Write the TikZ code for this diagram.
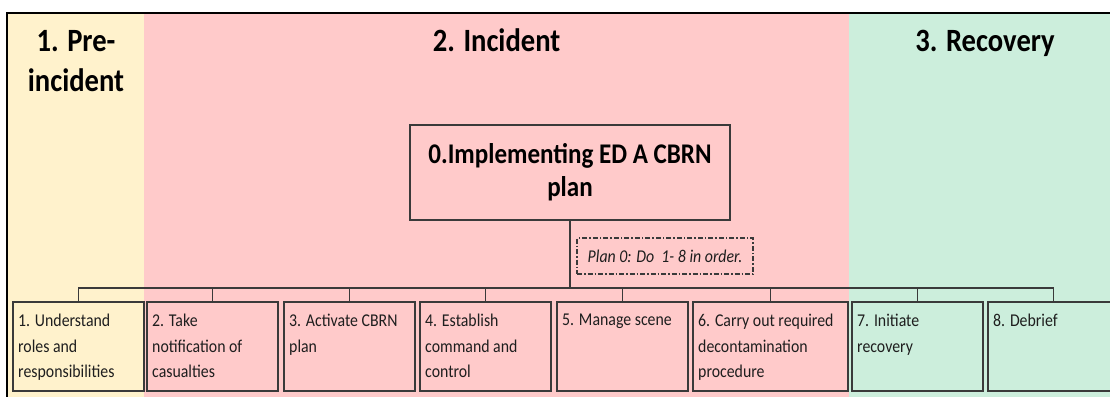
\documentclass[tikz,border=0pt]{standalone}
\usepackage{fontspec}
\setmainfont{Carlito}[FakeStretch=0.88]
\definecolor{preY}{HTML}{FFF2CC}
\definecolor{incP}{HTML}{FFCACA}
\definecolor{recG}{HTML}{CCEEDC}
\definecolor{boxgray}{HTML}{3A3A3A}
\definecolor{txtgray}{HTML}{1E1E1E}
\newcommand\fTitle{\fontsize{32.5}{40}\selectfont\bfseries}
\newcommand\fMain{\fontsize{28.5}{33}\selectfont\bfseries}
\newcommand\fTask{\fontsize{18}{25.5}\selectfont}
\newcommand\fPlan{\fontsize{18}{22}\selectfont\itshape}
\begin{document}
\begin{tikzpicture}[x=1pt,y=-1pt,
  titletext/.style={font=\fTitle, text=black, inner sep=0pt, align=center},
  mainbox/.style={draw=boxgray, line width=1.4pt, minimum width=320pt, minimum height=95pt, inner sep=0pt, align=center, font=\fMain, text=black},
  planbox/.style={draw=boxgray, line width=1.1pt, dash pattern=on 5pt off 2pt on 1.5pt off 2pt, minimum width=176pt, minimum height=36pt, inner sep=0pt, font=\fPlan, text=txtgray},
  taskbox/.style={draw=boxgray, line width=1.6pt, minimum width=131pt, minimum height=89pt, inner sep=0pt, anchor=north west},
  widebox/.style={taskbox, minimum width=155pt},
  tasktext/.style={font=\fTask, text=txtgray, inner sep=0pt, anchor=north west, align=left, xshift=6pt, yshift=-13pt},
  link/.style={draw=boxgray, line width=1.4pt}]
\path[use as bounding box, clip] (0,0) rectangle (1110,396);
% background columns
\fill[preY] (8,13) rectangle (144,402);
\fill[incP] (144,13) rectangle (849,402);
\fill[recG] (849,13) rectangle (1124,402);
\draw[black, line width=2pt] (7,13) rectangle (1122,402);
% titles
\node[titletext, anchor=north] (tpre) at (76,30) {1. Pre-\\incident};
\node[titletext, anchor=base] (tinc) at (496.5,52) {2. Incident};
\node[titletext, anchor=base] (trec) at (985,52) {3. Recovery};
% main node
\node[mainbox] (main) at (570,172.5) {0.Implementing ED A CBRN\\plan};
% plan note
\node[planbox] (plan) at (665,256) {Plan 0: Do\ \ 1-\ 8 in order.};
% task boxes
\node[taskbox] (t1) at (12,301) {};
\node[taskbox] (t2) at (146,301) {};
\node[taskbox] (t3) at (283,301) {};
\node[taskbox] (t4) at (419,301) {};
\node[taskbox] (t5) at (556,301) {};
\node[widebox] (t6) at (692,301) {};
\node[taskbox] (t7) at (851,301) {};
\node[taskbox] (t8) at (987,301) {};
\node[tasktext] (l1) at (t1.north west) {1. Understand\\roles and\\responsibilities};
\node[tasktext] (l2) at (t2.north west) {2. Take\\notification of\\casualties};
\node[tasktext] (l3) at (t3.north west) {3. Activate CBRN\\plan};
\node[tasktext] (l4) at (t4.north west) {4. Establish\\command and\\control};
\node[tasktext] (l5) at (t5.north west) {5. Manage scene};
\node[tasktext] (l6) at (t6.north west) {6. Carry out required\\decontamination\\procedure};
\node[tasktext] (l7) at (t7.north west) {7. Initiate\\recovery};
\node[tasktext] (l8) at (t8.north west) {8. Debrief};
% connectors
\coordinate (bus) at (570,288);
\draw[link] (main.south) -- (main.south |- bus);
\draw[link] (t1.north) -- (t1.north |- bus) -- (t8.north |- bus) -- (t8.north);
\foreach \t in {t2,t3,t4,t5,t6,t7} {
  \draw[link] (\t.north) -- (\t.north |- bus);
}
\end{tikzpicture}
\end{document}
